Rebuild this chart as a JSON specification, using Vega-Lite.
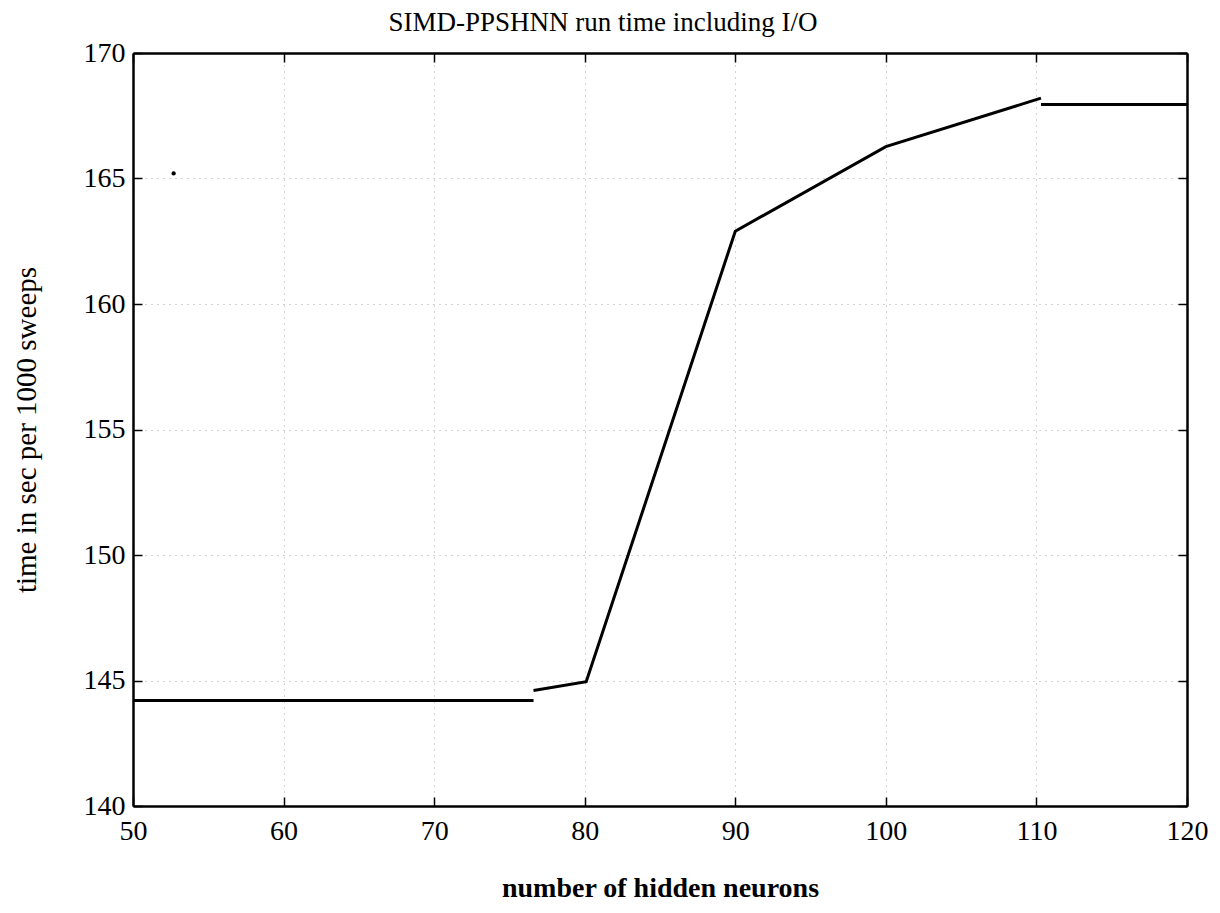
{
  "$schema": "https://vega.github.io/schema/vega-lite/v6.json",
  "autosize": "none",
  "padding": {"left": 133, "top": 53, "right": 33, "bottom": 107},
  "width": 1054,
  "height": 753,
  "background": "white",
  "config": {
    "view": {"stroke": null},
    "font": "Liberation Serif"
  },
  "title": {
    "text": "SIMD-PPSHNN run time including I/O",
    "font": "Liberation Serif",
    "fontSize": 27,
    "fontWeight": "normal",
    "color": "#000",
    "anchor": "middle",
    "dx": -57,
    "offset": 2
  },
  "datasets": {
    "runtime": [
      {"neurons": 50, "time": 144.2, "seg": "a"},
      {"neurons": 76.6, "time": 144.2, "seg": "a"},
      {"neurons": 76.6, "time": 144.6, "seg": "b"},
      {"neurons": 80.1, "time": 144.95, "seg": "b"},
      {"neurons": 90, "time": 162.9, "seg": "b"},
      {"neurons": 100, "time": 166.27, "seg": "b"},
      {"neurons": 110.3, "time": 168.2, "seg": "b"},
      {"neurons": 110.3, "time": 167.95, "seg": "c"},
      {"neurons": 120, "time": 167.95, "seg": "c"}
    ],
    "speck": [
      {"neurons": 52.7, "time": 165.2}
    ]
  },
  "layer": [
    {
      "data": {"name": "runtime"},
      "mark": {"type": "line", "color": "#000", "strokeWidth": 3},
      "encoding": {
        "x": {
          "field": "neurons", "type": "quantitative",
          "scale": {"domain": [50, 120], "nice": false, "zero": false},
          "axis": {
            "orient": "bottom",
            "title": "number of hidden neurons",
            "titleFont": "Liberation Serif",
            "titleFontSize": 28,
            "titleFontWeight": "bold",
            "titleColor": "#000",
            "titleBaseline": "middle",
            "titleY": 82,
            "values": [50, 60, 70, 80, 90, 100, 110, 120],
            "labelFont": "Liberation Serif",
            "labelFontSize": 28,
            "labelColor": "#000",
            "labelPadding": 34,
            "labelFlush": false,
            "labelBaseline": "middle",
            "domainColor": "#000",
            "domainWidth": 2.5,
            "tickColor": "#000",
            "tickWidth": 1.5,
            "tickSize": -9,
            "grid": true,
            "gridColor": "#000",
            "gridDash": [1, 5],
            "gridOpacity": 0.35,
            "gridWidth": 1
          }
        },
        "y": {
          "field": "time", "type": "quantitative",
          "scale": {"domain": [140, 170], "nice": false, "zero": false},
          "axis": {
            "orient": "left",
            "title": "time in sec per 1000 sweeps",
            "titleFont": "Liberation Serif",
            "titleFontSize": 29,
            "titleFontWeight": "normal",
            "titleColor": "#000",
            "titleBaseline": "middle",
            "titleX": -107,
            "values": [140, 145, 150, 155, 160, 165, 170],
            "labelFont": "Liberation Serif",
            "labelFontSize": 28,
            "labelColor": "#000",
            "labelPadding": 17,
            "labelFlush": false,
            "domainColor": "#000",
            "domainWidth": 2.5,
            "tickColor": "#000",
            "tickWidth": 1.5,
            "tickSize": -9,
            "grid": true,
            "gridColor": "#000",
            "gridDash": [1, 5],
            "gridOpacity": 0.35,
            "gridWidth": 1
          }
        },
        "detail": {"field": "seg", "type": "nominal"}
      }
    },
    {
      "data": {"name": "speck"},
      "mark": {"type": "point", "filled": true, "color": "#000", "size": 18, "shape": "circle", "opacity": 1},
      "encoding": {
        "x": {"field": "neurons", "type": "quantitative", "axis": {"orient": "top", "title": null, "labels": false, "values": [50, 60, 70, 80, 90, 100, 110, 120], "domainColor": "#000", "domainWidth": 2.5, "tickColor": "#000", "tickWidth": 1.5, "tickSize": -9, "grid": false}},
        "y": {"field": "time", "type": "quantitative", "axis": {"orient": "right", "title": null, "labels": false, "values": [140, 145, 150, 155, 160, 165, 170], "domainColor": "#000", "domainWidth": 2.5, "tickColor": "#000", "tickWidth": 1.5, "tickSize": -9, "grid": false}}
      }
    }
  ],
  "resolve": {"axis": {"x": "independent", "y": "independent"}}
}
